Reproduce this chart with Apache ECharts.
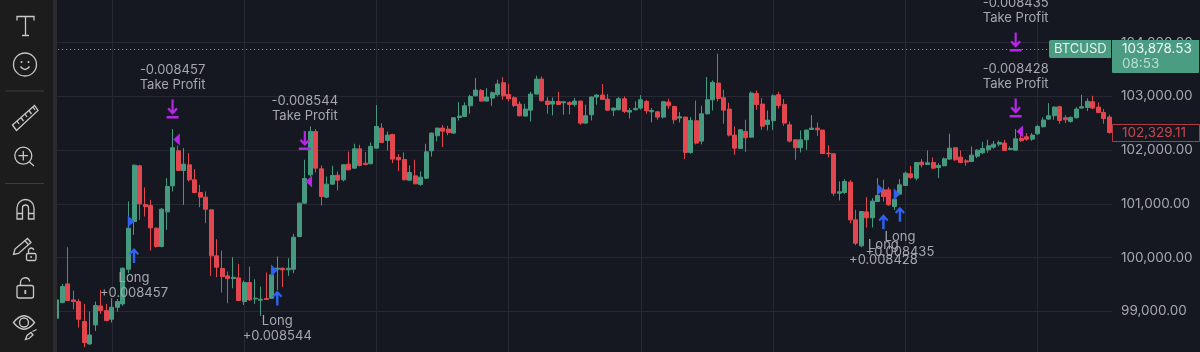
<!DOCTYPE html>
<html><head><meta charset="utf-8">
<style>html,body{margin:0;padding:0;background:#161821}#c{width:1200px;height:352px}</style>
<script src="https://cdn.jsdelivr.net/npm/echarts@6/dist/echarts.min.js"></script>
</head><body><div id="c"></div>
<script>
const opens=[98870,99162,99510,99212,99180,98808,98392,98746,99100,99013,98852,99075,99137,99783,100671,101708,100988,100969,100547,100206,100851,101336,101988,101621,101727,101448,101212,101125,100889,100032,99796,99659,99609,99622,99181,99535,99231,99206,99237,99243,99783,99802,99771,99783,100392,101013,101541,102348,101652,101125,101367,101534,101448,101739,101665,102025,101758,101746,102037,102410,102180,102292,101864,101826,101441,101522,101361,101479,101988,102267,102410,102392,102317,102609,102628,102826,103012,103112,102913,102969,103037,103255,103037,102975,102857,102634,102745,103044,103323,102913,102857,102907,102882,102888,102851,102913,102503,102659,102988,103025,102950,102745,102752,102957,102708,102752,102783,102907,102714,102714,102615,102895,102814,102597,102615,101957,102547,102168,102677,102938,103249,102975,102764,102280,102031,102348,102242,103056,102857,102478,102547,103031,102851,102472,102193,102044,102193,102385,102410,102373,101944,101932,101199,101212,101404,100702,100218,100851,100740,101044,101261,101261,100951,101181,101342,101559,101479,101777,101733,101770,101677,101708,101833,102044,101870,101801,101789,101888,101951,102006,102056,102112,102131,102013,102000,102218,102249,102205,102305,102435,102578,102640,102808,102603,102534,102603,102783,102795,102901,102801,102702,102615];
const closes=[99212,99460,99200,99180,98852,98417,98560,99107,99013,98827,99075,99181,99802,100547,101721,101000,100951,100553,100206,100901,101323,102044,101621,101739,101448,101212,101125,100901,100032,99821,99647,99609,99634,99200,99535,99212,99243,99225,99218,99678,99802,99771,99802,100379,101013,101472,102348,101665,101137,101367,101528,101441,101727,101634,102025,101715,101733,102069,102441,102143,102280,101833,101820,101448,101584,101373,101497,101969,102317,102410,102354,102329,102603,102634,102826,103000,103118,102913,102988,103068,103230,103012,102957,102832,102640,102764,103044,103323,102919,102851,102907,102851,102901,102851,102913,102503,102640,102988,103025,102944,102745,102783,102957,102721,102739,102777,102938,102733,102739,102615,102901,102826,102565,102621,101957,102553,102131,102677,102938,103261,102963,102745,102280,102037,102379,102230,103062,102851,102447,102559,103012,102832,102503,102168,102044,102193,102373,102410,102379,101938,101932,101199,101224,101417,100702,100268,100857,100740,101050,101156,101137,100982,101087,101354,101572,101491,101770,101727,101764,101665,101715,101839,102037,101820,101770,101777,101907,102000,102031,102081,102112,102143,101994,102031,102211,102174,102205,102280,102441,102559,102640,102801,102553,102565,102609,102764,102808,102907,102783,102702,102590,102329];
const lows=[98840,99150,99190,99038,98697,98330,98374,98634,98951,98815,98790,98995,99100,99709,100423,100702,100765,100131,100187,100190,100516,101230,101610,100982,101417,101199,100938,100640,99659,99634,99349,99150,99429,99190,99119,99200,99137,98914,99212,99231,99398,99448,99659,99709,100380,101000,101510,101584,100969,101106,101354,101249,101417,101625,101655,101696,101715,101740,102030,102135,101994,101758,101609,101440,101435,101365,101336,101460,101882,102162,102056,102280,102305,102553,102615,102677,103000,102907,102907,102826,103000,102938,102907,102801,102628,102628,102534,103035,102907,102677,102646,102845,102659,102665,102814,102472,102491,102553,102845,102938,102733,102634,102739,102690,102590,102739,102752,102677,102516,102565,102590,102770,102491,102516,101833,101932,102106,102106,102665,102739,102907,102491,102255,101913,102019,101969,102230,102752,102379,102367,102379,102777,102454,102143,101820,101957,102006,102379,102267,101926,101864,101149,101063,101187,100640,100230,100193,100559,100559,101040,101044,100963,100889,101168,101336,101466,101435,101677,101727,101646,101479,101702,101820,101801,101758,101708,101777,101851,101926,101951,102025,102069,101985,102006,101995,102155,102174,102174,102280,102423,102565,102565,102491,102503,102516,102590,102777,102727,102764,102690,102491,102305];
const highs=[99240,99510,100193,99386,99231,99137,98995,99181,99398,99137,99243,99231,99815,101044,101730,101727,101305,101075,100560,100920,101479,102392,102081,102037,101944,101646,101354,101230,100895,100342,100131,99740,100007,99883,99572,99833,99597,99460,99721,99740,100019,99814,99988,100442,101020,101820,102441,102392,101715,101510,101708,101603,101735,101975,102118,102100,101963,102143,102839,102503,102348,102305,101926,101957,101715,101820,101603,102118,102325,102418,102466,102454,102610,102895,102888,103031,103342,103137,103155,103093,103311,103360,103230,103000,102907,102863,103087,103385,103373,102988,102981,103087,102905,102907,102969,102920,102845,103000,103044,103230,103044,102790,102988,103000,102783,102907,103025,102938,102783,102727,102919,102957,102826,102708,102620,102615,102925,102826,103360,103298,103795,103124,102882,102441,102392,102565,103093,103112,102969,102739,103037,103087,102950,102534,102200,102367,102379,102652,102516,102379,102093,101944,101417,101460,101441,100889,100865,101125,101106,101479,101448,101311,101230,101460,101597,101708,101775,101833,101994,101864,101758,101864,102305,102056,101994,101833,102069,102019,102155,102193,102168,102180,102193,102069,102392,102317,102317,102317,102472,102609,102876,102814,102826,102652,102628,102801,103031,102963,103012,102888,102764,102659];
const categories=opens.map((_,i)=>String(i));
const gridEvery=24, gridStart=10;
const priceTicks={min:98000,max:105000,step:1000};
const livePrice=103878.53, lastPrice="102,329.11", livePriceText="103,878.53", countdown="08:53", symbolName="BTCUSD";
const entries=[[14,100038,"+0.008457"],[40,99249,"+0.008544"],[150,100665,"+0.008428"],[153,100808,"+0.008435"]];
const exits=[[21,102764,"-0.008457"],[45,102180,"-0.008544"],[174,104012,"-0.008435"],[174,102783,"-0.008428"]];
const entryFlags=[[14,100671],[40,99759],[150,101267],[153,101181]];
const exitFlags=[[21,102199],[45,101417],[174,102348]];

const UP='#459a80', DOWN='#e2474f', BG='#161821', GRID='#262933', TXT='#a6a8ae';
const BLUE='#2f62f0', PURPLE='#b726e8', ICON='#c8c8ca';
const FONT='Inter';
const upArrow='path://M5 0L10 5.5L8.6 7L6.2 4.6V15H3.8V4.6L1.4 7L0 5.5Z';
const downBar='path://M4.9 0H7.1V9.8L9.6 7.4L11.2 9L6 14L0.8 9L2.4 7.4L4.9 9.8ZM0 15.2H12V17.6H0Z';
const toRight='path://M0 0L7 5L0 10Z', toLeft='path://M7 0L0 5L7 10Z';

const iconPaths=[
 'M17 20.5V16.5H34V20.5M25.5 16.5V35.5M22 35.5H29',
 'M20.5 66.5Q25 72.5 29.5 66.5',
 'M12.5 125L34.5 105.5L38 110.5L16.5 130.5Z M17 121L19 124 M21 117.5L23.5 121 M25 114L27 117 M29 110.5L31.5 114 M33 107L35 110',
 'M29.5 162L34 166 M23.3 151V160.5 M18.5 155.7H28',
 'M17 219V208A8.5 8.5 0 0 1 34 208V219H28.5V208A3 3 0 0 0 22.5 208V219Z M17 213.5H22.5 M28.5 213.5H34',
 'M13.5 254.5L15 249L27.5 238.5L31 242.5L18.5 253.5Z M25 240.8L28.6 244.8',
 'M28.5 253.5V250.5A2.7 2.7 0 0 1 33.8 250',
 'M20.5 285V282.5A4.7 4.7 0 0 1 29.8 281.5',
 'M13.5 322.5Q24 309 34.5 322.5Q24 336 13.5 322.5Z',
 'M25.5 339.5L27 335.5L31 332.5L33 335L29 338.5Z M32.5 331.5L36.5 329.5'
];
iconPaths.forEach((d,i)=>echarts.graphic.registerShape('icon'+i,echarts.graphic.extendPath(d,{})));
const iconEls=iconPaths.map((_,i)=>({type:'icon'+i,shape:{},style:{fill:'none',stroke:ICON,lineWidth:1.3},z:101,silent:true}));
const graphicEls=[
 {type:'rect',shape:{x:0,y:0,width:53,height:352},style:{fill:'#1c1c1d'},z:100,silent:true},
 {type:'rect',shape:{x:53,y:0,width:4,height:352},style:{fill:'#2b2b2d'},z:100,silent:true},
 {type:'rect',shape:{x:5,y:90.5,width:39,height:1},style:{fill:'#3c3c3e'},z:101,silent:true},
 {type:'rect',shape:{x:5,y:183,width:39,height:1},style:{fill:'#3c3c3e'},z:101,silent:true},
 {type:'circle',shape:{cx:25,cy:64.5,r:11.5},style:{fill:'none',stroke:ICON,lineWidth:1.3},z:101,silent:true},
 {type:'circle',shape:{cx:21.5,cy:62,r:1},style:{fill:ICON},z:101,silent:true},
 {type:'circle',shape:{cx:28.5,cy:62,r:1},style:{fill:ICON},z:101,silent:true},
 {type:'circle',shape:{cx:23.3,cy:155.7,r:8.5},style:{fill:'none',stroke:ICON,lineWidth:1.3},z:101,silent:true},
 {type:'rect',shape:{x:26.5,y:253.5,width:9.5,height:7,r:1.5},style:{fill:'none',stroke:ICON,lineWidth:1.3},z:101,silent:true},
 {type:'rect',shape:{x:30.4,y:256,width:1.4,height:2},style:{fill:ICON},z:101,silent:true},
 {type:'rect',shape:{x:17,y:285.5,width:16.5,height:12.5,r:2},style:{fill:'none',stroke:ICON,lineWidth:1.3},z:101,silent:true},
 {type:'rect',shape:{x:24.4,y:290,width:1.8,height:4},style:{fill:ICON},z:101,silent:true},
 {type:'circle',shape:{cx:24,cy:322.5,r:4.5},style:{fill:'none',stroke:ICON,lineWidth:1.3},z:101,silent:true},
 {type:'rect',shape:{x:1049,y:40,width:62,height:18,r:[2,0,0,2]},style:{fill:'#4a9c82'},z:100,silent:true},
 {type:'rect',shape:{x:1112,y:40,width:87,height:33,r:[0,0,1,1]},style:{fill:'#4a9c82'},z:100,silent:true},
 {type:'rect',shape:{x:1112.5,y:124.5,width:87,height:17},style:{fill:BG,stroke:'#b23a42',lineWidth:1},z:100,silent:true},
 {type:'text',style:{x:1054,y:49,text:symbolName,font:'13px '+FONT,fill:'#e8f2ee',verticalAlign:'middle'},z:102,silent:true},
 {type:'text',style:{x:1122,y:48.5,text:livePriceText,font:'13.5px '+FONT,fill:'#eef5f2',verticalAlign:'middle'},z:102,silent:true},
 {type:'text',style:{x:1122,y:64,text:countdown,font:'13.5px '+FONT,fill:'#b9dccf',verticalAlign:'middle'},z:102,silent:true},
 {type:'text',style:{x:1122,y:133,text:lastPrice,font:'13.5px '+FONT,fill:'#c8474e',verticalAlign:'middle'},z:102,silent:true}
].concat(iconEls);

const chart=echarts.init(document.getElementById('c'),null,{renderer:'canvas'});
chart.setOption({
 animation:false,backgroundColor:BG,
 grid:{left:54.1,right:87.9,top:-11,bottom:-13,containLabel:false,outerBoundsMode:'none'},
 graphic:{elements:graphicEls},
 xAxis:{type:'category',data:categories,boundaryGap:true,axisLine:{show:false},axisTick:{show:false},axisLabel:{show:false},
   splitLine:{show:true,alignWithLabel:true,interval:(i)=>(i-gridStart)%gridEvery===0,lineStyle:{color:GRID,width:1}}},
 yAxis:{type:'value',position:'right',min:priceTicks.min,max:priceTicks.max,interval:priceTicks.step,scale:true,
   axisLine:{show:false},axisTick:{show:false},
   axisLabel:{color:TXT,fontFamily:FONT,fontSize:13.5,margin:9,
     formatter:v=>v.toLocaleString('en-US',{minimumFractionDigits:2,maximumFractionDigits:2})},
   splitLine:{show:true,lineStyle:{color:GRID,width:1}}},
 series:[
  {type:'candlestick',name:'BTCUSD',data:opens.map((o,i)=>[o,closes[i],lows[i],highs[i]]),barWidth:4.5,
   itemStyle:{color:UP,color0:DOWN,borderColor:UP,borderColor0:DOWN,borderWidth:1},
   markLine:{silent:true,symbol:'none',label:{show:false},lineStyle:{color:'#8f9ea0',type:[1,3],width:1},data:[{yAxis:livePrice}]}},
  {type:'scatter',name:'entry',data:entries.map(e=>({value:[e[0],e[1]],tag:e[2]})),symbol:upArrow,symbolSize:[10,15],itemStyle:{color:BLUE,opacity:1},z:5,
   label:{show:true,position:'bottom',distance:8,color:TXT,fontFamily:FONT,fontSize:13,lineHeight:15,align:'center',formatter:p=>'Long\n'+p.data.tag}},
  {type:'scatter',name:'exit',data:exits.map(e=>({value:[e[0],e[1]],tag:e[2]})),symbol:downBar,symbolSize:[12,19],itemStyle:{color:PURPLE,opacity:1},z:5,
   label:{show:true,position:'top',distance:7,color:TXT,fontFamily:FONT,fontSize:13,lineHeight:15,align:'center',formatter:p=>p.data.tag+'\nTake Profit'}},
  {type:'scatter',name:'entryFlag',data:entryFlags,symbol:toRight,symbolSize:[6.5,12],symbolOffset:[-3,0],itemStyle:{color:BLUE,opacity:1},z:5},
  {type:'scatter',name:'exitFlag',data:exitFlags,symbol:toLeft,symbolSize:[6.5,12],symbolOffset:[4,0],itemStyle:{color:PURPLE,opacity:1},z:5}
 ]
});
</script></body></html>
